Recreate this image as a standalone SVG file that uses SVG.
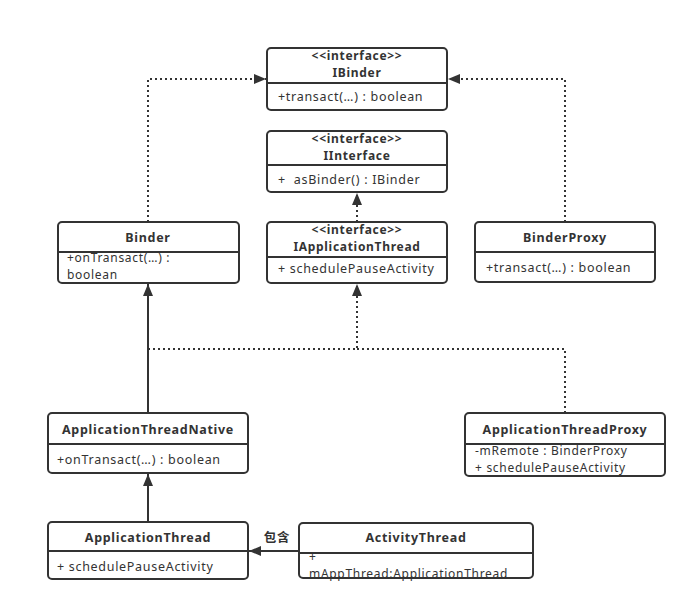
<svg xmlns="http://www.w3.org/2000/svg" width="696" height="612" viewBox="0 0 696 612">
<style>
.box{fill:#fff;stroke:#333;stroke-width:2}
.div{stroke:#333;stroke-width:2}
text{font-family:"Noto Sans","Noto Sans CJK SC",sans-serif;font-size:12.5px;fill:#333;letter-spacing:0.7px}
.t{font-weight:bold;text-anchor:middle}
.s{font-size:12px}
.solid{fill:none;stroke:#333;stroke-width:2}
.dot{fill:none;stroke:#333;stroke-width:2;stroke-dasharray:2 3}
</style>
<defs>
<marker id="ah" viewBox="0 0 12 10" refX="12" refY="5" markerWidth="12" markerHeight="10" markerUnits="userSpaceOnUse" orient="auto">
<path d="M0,0 L12,5 L0,10 Z" fill="#333"/>
</marker>
</defs>
<rect width="696" height="612" fill="#fff"/>
<g id="connectors">
<path class="dot" d="M148,222 V79 H266" marker-end="url(#ah)"/>
<path class="dot" d="M565,222 V79 H448" marker-end="url(#ah)"/>
<path class="dot" d="M357,222 V193" marker-end="url(#ah)"/>
<path class="solid" d="M148,413 V284" marker-end="url(#ah)"/>
<path class="dot" d="M148,349 H357 V284" marker-end="url(#ah)"/>
<path class="dot" d="M565,413 V349 H357"/>
<path class="solid" d="M148,522 V474" marker-end="url(#ah)"/>
<path class="solid" d="M299,551 H249" marker-end="url(#ah)"/>
<text x="277" y="542" class="t">包含</text>
</g>
<g id="IBinder">
<rect class="box" x="267" y="48" width="180" height="62" rx="4"/>
<line class="div" x1="267" y1="83" x2="447" y2="83"/>
<text x="357" y="60" class="t s">&lt;&lt;interface&gt;&gt;</text>
<text x="357" y="77" class="t s">IBinder</text>
<text x="278" y="101">+transact(…) : boolean</text>
</g>
<g id="IInterface">
<rect class="box" x="267" y="131" width="180" height="61" rx="4"/>
<line class="div" x1="267" y1="165" x2="447" y2="165"/>
<text x="357" y="143" class="t s">&lt;&lt;interface&gt;&gt;</text>
<text x="357" y="160" class="t s">IInterface</text>
<text x="278" y="184" xml:space="preserve">+  asBinder() : IBinder</text>
</g>
<g id="IApplicationThread">
<rect class="box" x="267" y="222" width="180" height="61" rx="4"/>
<line class="div" x1="267" y1="257" x2="447" y2="257"/>
<text x="357" y="234" class="t s">&lt;&lt;interface&gt;&gt;</text>
<text x="357" y="251" class="t s">IApplicationThread</text>
<text x="278" y="273">+ schedulePauseActivity</text>
</g>
<g id="Binder">
<rect class="box" x="58" y="222" width="181" height="61" rx="4"/>
<line class="div" x1="58" y1="252" x2="239" y2="252"/>
<text x="148" y="242" class="t">Binder</text>
<text x="67" y="262" class="s">+onTransact(…) :</text>
<text x="67" y="279" class="s">boolean</text>
</g>
<g id="BinderProxy">
<rect class="box" x="475" y="222" width="180" height="60" rx="4"/>
<line class="div" x1="475" y1="252" x2="655" y2="252"/>
<text x="565" y="242" class="t">BinderProxy</text>
<text x="486" y="272">+transact(…) : boolean</text>
</g>
<g id="ApplicationThreadNative">
<rect class="box" x="48" y="413" width="200" height="60" rx="4"/>
<line class="div" x1="48" y1="444" x2="248" y2="444"/>
<text x="148" y="434" class="t">ApplicationThreadNative</text>
<text x="57" y="464">+onTransact(…) : boolean</text>
</g>
<g id="ApplicationThreadProxy">
<rect class="box" x="465" y="413" width="200" height="63" rx="4"/>
<line class="div" x1="465" y1="444" x2="665" y2="444"/>
<text x="565" y="434" class="t">ApplicationThreadProxy</text>
<text x="475" y="455" class="s">-mRemote : BinderProxy</text>
<text x="475" y="472" class="s">+ schedulePauseActivity</text>
</g>
<g id="ApplicationThread">
<rect class="box" x="48" y="522" width="200" height="57" rx="4"/>
<line class="div" x1="48" y1="551" x2="248" y2="551"/>
<text x="148" y="542" class="t">ApplicationThread</text>
<text x="57" y="571">+ schedulePauseActivity</text>
</g>
<g id="ActivityThread">
<rect class="box" x="299" y="523" width="234" height="55" rx="4"/>
<line class="div" x1="299" y1="553" x2="533" y2="553"/>
<text x="416" y="542" class="t">ActivityThread</text>
<text x="309" y="561" class="s">+</text>
<text x="309" y="578" class="s">mAppThread:ApplicationThread</text>
</g>
</svg>
